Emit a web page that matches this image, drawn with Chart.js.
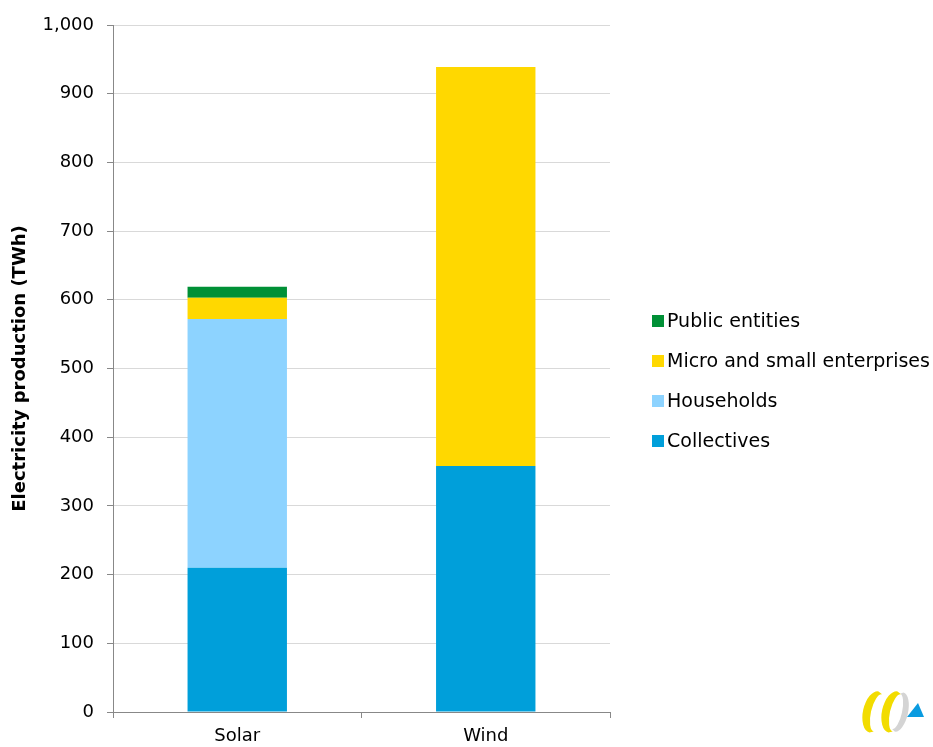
<!DOCTYPE html>
<html>
<head>
<meta charset="utf-8">
<script src="https://cdn.jsdelivr.net/npm/chart.js@4"></script>
<style>
 body{margin:0;background:#fff;}
 #wrap{width:933px;height:747px;position:relative;}
</style>
</head>
<body>
<div id="wrap"><canvas id="myChart" width="933" height="747"></canvas></div>
<script>
// data
var categories = ["Solar", "Wind"];
var collectives = [210, 358];
var households = [362, 0];
var microSmall = [31, 581];
var publicEntities = [16, 0];
var yTicks = [0, 100, 200, 300, 400, 500, 600, 700, 800, 900, 1000];

var FONT = "'DejaVu Sans', Tahoma, sans-serif";

// legend drawn at the right, top item first
var sideLegend = {
  id: 'sideLegend',
  afterDraw: function(chart){
    var c = chart.ctx;
    var ds = chart.data.datasets;
    c.save();
    c.font = "19px " + FONT;
    c.textBaseline = "middle";
    var y = 321;
    for (var i = ds.length - 1; i >= 0; i--) {
      c.fillStyle = ds[i].backgroundColor;
      c.fillRect(652, y - 6, 12, 12);
      c.fillStyle = "#000";
      c.fillText(ds[i].label, 667, y + 1);
      y += 40;
    }
    c.restore();
  }
};

function crescent(c, cx, cy, dir, color){
  // dir -1 : bulge to the left, 1 : bulge to the right
  c.save();
  c.translate(cx, cy);
  c.rotate(0.22);
  c.fillStyle = color;
  c.beginPath();
  if (dir < 0) {
    c.ellipse(0, 0, 11, 21, 0, -Math.PI / 2, Math.PI / 2, true);
    c.ellipse(4, 0, 7, 19, 0, Math.PI / 2, 3 * Math.PI / 2, false);
  } else {
    c.ellipse(0, 0, 9, 20, 0, -Math.PI / 2, Math.PI / 2, false);
    c.ellipse(-3, 0, 6, 18, 0, Math.PI / 2, -Math.PI / 2, true);
  }
  c.closePath();
  c.fill();
  c.restore();
}

// small logo bottom right
var logo = {
  id: 'logo',
  afterDraw: function(chart){
    var c = chart.ctx;
    crescent(c, 874, 712, -1, "#f2dc00");
    crescent(c, 893, 712, -1, "#f2dc00");
    crescent(c, 899, 712, 1, "#d4d4d4");
    c.save();
    c.fillStyle = "#0a9be0";
    c.beginPath(); c.moveTo(918, 703); c.lineTo(924, 717); c.lineTo(907, 717); c.closePath(); c.fill();
    c.restore();
  }
};

var ctx = document.getElementById('myChart').getContext('2d');
var data = {
  labels: categories,
  datasets: [
    { label: "Collectives", data: collectives, backgroundColor: "#009fda" },
    { label: "Households", data: households, backgroundColor: "#8dd3ff" },
    { label: "Micro and small enterprises", data: microSmall, backgroundColor: "#ffd800" },
    { label: "Public entities", data: publicEntities, backgroundColor: "#009036" }
  ]
};

var myChart = new Chart(ctx, {
  type: 'bar',
  data: data,
  plugins: [sideLegend, logo],
  options: {
    responsive: false,
    animation: false,
    layout: { padding: { top: 25, right: 323, left: 0, bottom: 0 } },
    datasets: { bar: { categoryPercentage: 0.4, barPercentage: 1.0, borderWidth: 0 } },
    plugins: {
      legend: { display: false },
      tooltip: { enabled: false }
    },
    scales: {
      x: {
        stacked: true,
        offset: true,
        afterFit: function(s){ s.height = 35; },
        grid: {
          offset: true,
          color: function(c){ return c.index === 2 ? "#d9d9d9" : "rgba(0,0,0,0)"; },
          tickColor: "#888",
          tickLength: 6,
          lineWidth: 1
        },
        border: { color: "#888", width: 1 },
        ticks: { color: "#000", font: { family: FONT, size: 18 }, padding: 8 }
      },
      y: {
        stacked: true,
        min: 0,
        max: 1000,
        afterFit: function(s){ s.width = 113; },
        afterBuildTicks: function(s){ s.ticks = yTicks.map(function(v){ return { value: v }; }); },
        grid: { color: "#d9d9d9", tickColor: "#888", tickLength: 6 },
        border: { color: "#888", width: 1 },
        ticks: { color: "#000", font: { family: FONT, size: 18 }, padding: 13 },
        title: {
          display: true,
          text: "Electricity production (TWh)",
          color: "#000",
          font: { family: FONT, size: 18, weight: "bold" },
          padding: { top: 10, bottom: 4 }
        }
      }
    }
  }
});
</script>
</body>
</html>
